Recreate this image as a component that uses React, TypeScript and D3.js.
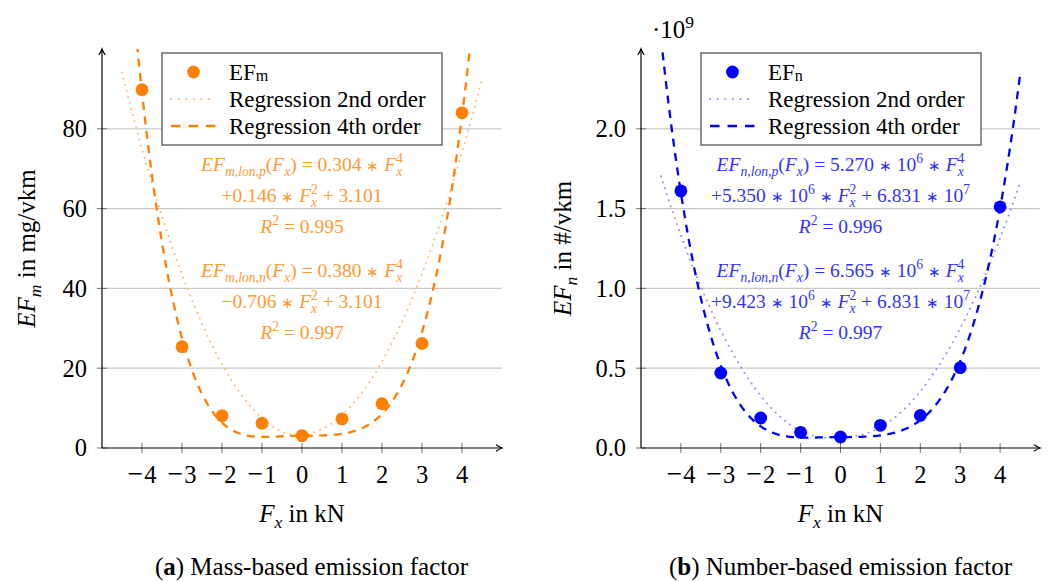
import React from 'react';
import * as d3 from 'd3';

// ---------- data ----------
const forceTicks = [-4, -3, -2, -1, 0, 1, 2, 3, 4];
const efMass = [89.8, 25.4, 8.1, 6.2, 3.1, 7.3, 11.1, 26.2, 84.0]; // mg/vkm
const efNumber = [1.611, 0.47, 0.188, 0.098, 0.069, 0.142, 0.204, 0.503, 1.511]; // x10^9 #/vkm
const massYTicks = [0, 20, 40, 60, 80];
const numberYTicks = [0, 0.5, 1.0, 1.5, 2.0];
// 4th order regression coefficients [F^4, F^2, const]
const mass4thPos = [0.304, 0.146, 3.101];
const mass4thNeg = [0.38, -0.706, 3.101];
const number4thPos = [5.27e-3, 5.35e-3, 6.831e-2]; // in units of 10^9
const number4thNeg = [6.565e-3, -9.423e-3, 6.831e-2];
// 2nd order regression coefficients [F^2, F, const]
const mass2ndPos = [4.25, 0.7, 3.3];
const mass2ndNeg = [4.5, 0, 3.0];
const number2ndPos = [0.085, -0.03, 0.075];
const number2ndNeg = [0.0942, 0.0622, 0.075];
const curveDomain = [-4.5, 4.5];

const massAnnot = [
  '{i:EF}{sb:m,lon,p}({i:F}{sb:x}) = 0.304 ∗ {i:F}{sb:x}{sp:4}',
  '+0.146 ∗ {i:F}{sb:x}{sp:2} + 3.101',
  '{i:R}{sp:2} = 0.995',
  '{i:EF}{sb:m,lon,n}({i:F}{sb:x}) = 0.380 ∗ {i:F}{sb:x}{sp:4}',
  '−0.706 ∗ {i:F}{sb:x}{sp:2} + 3.101',
  '{i:R}{sp:2} = 0.997',
];
const numberAnnot = [
  '{i:EF}{sb:n,lon,p}({i:F}{sb:x}) = 5.270 ∗ 10{sp:6} ∗ {i:F}{sb:x}{sp:4}',
  '+5.350 ∗ 10{sp:6} ∗ {i:F}{sb:x}{sp:2} + 6.831 ∗ 10{sp:7}',
  '{i:R}{sp:2} = 0.996',
  '{i:EF}{sb:n,lon,n}({i:F}{sb:x}) = 6.565 ∗ 10{sp:6} ∗ {i:F}{sb:x}{sp:4}',
  '+9.423 ∗ 10{sp:6} ∗ {i:F}{sb:x}{sp:2} + 6.831 ∗ 10{sp:7}',
  '{i:R}{sp:2} = 0.997',
];
const annotBaselines = [171, 202, 233, 277, 308, 339];

const FONT = '"Liberation Serif", "Times New Roman", serif';

type Seg = { t: string; k: string };
function parse(s: string): Seg[] {
  const out: Seg[] = [];
  const re = /\{(i|sb|sbr|sp|b):([^}]*)\}|([^{]+)/g;
  let m: RegExpExecArray | null;
  while ((m = re.exec(s))) {
    if (m[3] !== undefined) {
      const parts = m[3].split(/(∗)/);
      parts.forEach((q) => {
        if (q === '') return;
        out.push({ t: q, k: q === '∗' ? 'o' : 'n' });
      });
    } else out.push({ t: m[2], k: m[1] });
  }
  return out;
}

function Rich(props: {
  x: number; y: number; s: string; size: number; fill?: string;
  anchor?: string; transform?: string;
}) {
  const { x, y, s, size, fill = '#000', anchor = 'middle', transform } = props;
  const segs = parse(s);
  const small = size * 0.7;
  const subOff = size * 0.25;
  const supOff = -size * 0.42;
  let cur = 0;
  const spans: any[] = [];
  segs.forEach((g, i) => {
    let target = 0;
    let fs = size;
    let style = 'normal';
    let weight = 'normal';
    let dx = 0;
    if (g.k === 'sb') {
      target = subOff; fs = small; style = 'italic';
    } else if (g.k === 'sbr') {
      target = size * 0.08; fs = small;
    } else if (g.k === 'sp') {
      target = supOff; fs = small;
      if (i > 0 && segs[i - 1].k === 'sb') dx = -segs[i - 1].t.length * small * 0.45;
    } else if (g.k === 'o') {
      target = -size * 0.02; fs = size * 0.78;
    } else if (g.k === 'i') style = 'italic';
    else if (g.k === 'b') weight = 'bold';
    const dy = target - cur;
    cur = target;
    spans.push(
      <tspan key={i} dy={dy !== 0 ? dy : undefined} dx={dx !== 0 ? dx : undefined}
        fontSize={fs} fontStyle={style} fontWeight={weight}>{g.t}</tspan>
    );
  });
  return (
    <text x={x} y={y} textAnchor={anchor} fill={fill} fontFamily={FONT} fontSize={size}
      transform={transform} style={{ whiteSpace: 'pre' }}>{spans}</text>
  );
}

type PanelProps = {
  id: string;
  xRange: [number, number];
  yMax: number;
  yTicks: number[];
  yFmt: (v: number) => string;
  values: number[];
  c4pos: number[]; c4neg: number[];
  c2pos: number[]; c2neg: number[];
  main: string; light: string; textColor: string;
  legendLabel: string;
  annot: string[];
  yLabel: string; yLabelX: number;
  caption: string; captionX: number;
  multiplier?: boolean;
};

const Y0 = 448, Y1 = 49;

function Panel(p: PanelProps) {
  const x = d3.scaleLinear().domain([-5, 5]).range(p.xRange);
  const y = d3.scaleLinear().domain([0, p.yMax]).range([Y0, Y1]);
  const [xl, xr] = p.xRange;
  const f4 = (c: number[], v: number) => c[0] * v ** 4 + c[1] * v ** 2 + c[2];
  const f2 = (c: number[], v: number) => c[0] * v * v + c[1] * v + c[2];
  const samplesNeg = d3.range(curveDomain[0], 0.0001, 0.02);
  const samplesPos = d3.range(0, curveDomain[1] + 0.0001, 0.02);
  const line = d3.line<[number, number]>().x((d) => x(d[0])).y((d) => y(d[1]));
  const mk = (fn: (c: number[], v: number) => number, cn: number[], cp: number[]) =>
    line([
      ...samplesNeg.map((v) => [v, fn(cn, v)] as [number, number]),
      ...samplesPos.slice(1).map((v) => [v, fn(cp, v)] as [number, number]),
    ]) || '';
  const path4 = mk(f4, p.c4neg, p.c4pos);
  const path2 = mk(f2, p.c2neg, p.c2pos);
  const lgX = xl + 60, lgY = 53, lgW = 280, lgH = 92;
  const rows = [72, 99, 126];
  const cx0 = x(0);
  return (
    <g>
      <defs>
        <clipPath id={`clip-${p.id}`}>
          <rect x={xl} y={Y1} width={xr - xl} height={Y0 - Y1} />
        </clipPath>
      </defs>
      {p.yTicks.filter((t) => t > 0).map((t) => (
        <line key={t} x1={xl} x2={xr} y1={y(t)} y2={y(t)} stroke="#c8c8c8" strokeWidth={1.2} />
      ))}
      {p.yTicks.map((t) => (
        <line key={'yt' + t} x1={xl - 5} x2={xl + 5} y1={y(t)} y2={y(t)} stroke="#777" strokeWidth={1} />
      ))}
      {forceTicks.map((t) => (
        <line key={'xt' + t} x1={x(t)} x2={x(t)} y1={Y0 - 5} y2={Y0 + 5} stroke="#777" strokeWidth={1} />
      ))}
      <g clipPath={`url(#clip-${p.id})`}>
        <path d={path2} fill="none" stroke={p.light} strokeWidth={1.9} strokeDasharray="0.1 6.2" strokeLinecap="round" />
        <path d={path4} fill="none" stroke={p.main} strokeWidth={2.3} strokeDasharray="8 6.5" />
      </g>
      {forceTicks.map((t, i) => (
        <circle key={'p' + t} cx={x(t)} cy={y(p.values[i])} r={6.4} fill={p.main} />
      ))}
      <line x1={xl} x2={xl} y1={Y0} y2={Y1} stroke="#000" strokeWidth={1.2} />
      <line x1={xl} x2={xr} y1={Y0} y2={Y0} stroke="#000" strokeWidth={1.2} />
      <path d={`M${xl - 3.2},${Y1 + 6} Q${xl - 0.6},${Y1 + 2} ${xl},${Y1} Q${xl + 0.6},${Y1 + 2} ${xl + 3.2},${Y1 + 6}`}
        fill="none" stroke="#000" strokeWidth={1.2} />
      <path d={`M${xr - 6},${Y0 - 3.2} Q${xr - 2},${Y0 - 0.6} ${xr},${Y0} Q${xr - 2},${Y0 + 0.6} ${xr - 6},${Y0 + 3.2}`}
        fill="none" stroke="#000" strokeWidth={1.2} />
      {p.yTicks.map((t) => (
        <text key={'yl' + t} x={xl - 15} y={y(t) + 8.3} textAnchor="end" fontFamily={FONT} fontSize={24.5}>
          {p.yFmt(t)}
        </text>
      ))}
      {forceTicks.map((t) => (
        <text key={'xl' + t} x={x(t)} y={483} textAnchor="middle" fontFamily={FONT} fontSize={24.5}
          style={{ whiteSpace: 'pre' }}>
          {t < 0 ? (
            <>
              <tspan fontSize={28}>{'\u2212'}</tspan>
              <tspan dx={1}>{String(Math.abs(t))}</tspan>
            </>
          ) : String(t)}
        </text>
      ))}
      {p.multiplier && (
        <Rich x={xl + 11} y={38} s={'·10{sp:9}'} size={25} anchor="start" />
      )}
      <rect x={lgX} y={lgY} width={lgW} height={lgH} fill="#fff" stroke="#555" strokeWidth={1.3} />
      <circle cx={lgX + 31.5} cy={rows[0]} r={6.4} fill={p.main} />
      <line x1={lgX + 9} x2={lgX + 54} y1={rows[1]} y2={rows[1]} stroke={p.light} strokeWidth={1.9}
        strokeDasharray="0.1 7.5" strokeLinecap="round" />
      <line x1={lgX + 9} x2={lgX + 54} y1={rows[2]} y2={rows[2]} stroke={p.main} strokeWidth={2.3}
        strokeDasharray="9.5 8" />
      <Rich x={lgX + 67} y={rows[0] + 7.5} s={p.legendLabel} size={23} anchor="start" />
      <text x={lgX + 67} y={rows[1] + 7.5} fontFamily={FONT} fontSize={23}>Regression 2nd order</text>
      <text x={lgX + 67} y={rows[2] + 7.5} fontFamily={FONT} fontSize={23}>Regression 4th order</text>
      {p.annot.map((a, i) => (
        <Rich key={'a' + i} x={cx0} y={annotBaselines[i]} s={a} size={19.5} fill={p.textColor} />
      ))}
      <Rich x={cx0} y={521.5} s={'{i:F}{sb:x} in kN'} size={25} />
      <Rich x={0} y={0} s={p.yLabel} size={25} transform={`translate(${p.yLabelX},${(Y0 + Y1) / 2}) rotate(-90)`} />
      <Rich x={p.captionX} y={575} s={p.caption} size={25} />
    </g>
  );
}

export default function App() {
  return (
    <svg width={1051} height={581} viewBox="0 0 1051 581"
      style={{ position: 'absolute', left: 0, top: 0, background: '#fff' }}>
      <rect x={0} y={0} width={1051} height={581} fill="#fff" />
      <Panel id="a" xRange={[102, 502]} yMax={100} yTicks={massYTicks} yFmt={(v) => String(v)}
        values={efMass} c4pos={mass4thPos} c4neg={mass4thNeg} c2pos={mass2ndPos} c2neg={mass2ndNeg}
        main="#ff8000" light="#ffb870" textColor="#ff9933"
        legendLabel={'EF{sbr:m}'} annot={massAnnot}
        yLabel={'{i:EF}{sb:m} in mg/vkm'} yLabelX={35}
        caption={'({b:a}) Mass-based emission factor'} captionX={311.5} />
      <Panel id="b" xRange={[641, 1040]} yMax={2.5} yTicks={numberYTicks} yFmt={(v) => v.toFixed(1)}
        values={efNumber} c4pos={number4thPos} c4neg={number4thNeg} c2pos={number2ndPos} c2neg={number2ndNeg}
        main="#0000ff" light="#8c8cff" textColor="#3333ff"
        legendLabel={'EF{sbr:n}'} annot={numberAnnot}
        yLabel={'{i:EF}{sb:n} in #/vkm'} yLabelX={570.5}
        caption={'({b:b}) Number-based emission factor'} captionX={840.5} multiplier />
    </svg>
  );
}
